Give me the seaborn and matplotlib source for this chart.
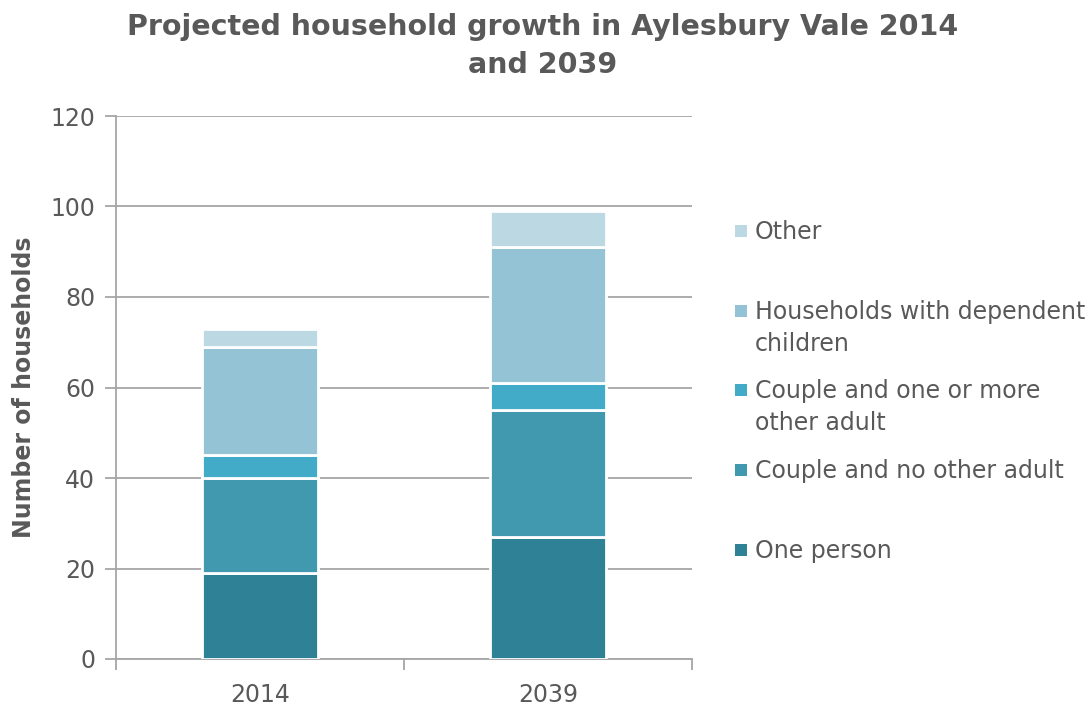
import matplotlib
matplotlib.use("Agg")
import matplotlib.pyplot as plt
import matplotlib.patches as mpatches
import seaborn as sns
import pandas as pd
import numpy as np

years = ["2014", "2039"]
categories = [
    "One person",
    "Couple and no other adult",
    "Couple and one or more other adult",
    "Households with dependent children",
    "Other",
]
one_person = [19, 27]
couple_no_other = [21, 28]
couple_other_adult = [5, 6]
dependent_children = [24, 30]
other = [4, 8]

series = [one_person, couple_no_other, couple_other_adult, dependent_children, other]
colors = ["#2F8195", "#4199AF", "#42ABC7", "#93C3D4", "#BCD8E3"]

legend_labels = {
    "Other": "Other",
    "Households with dependent children": "Households with dependent\nchildren",
    "Couple and one or more other adult": "Couple and one or more\nother adult",
    "Couple and no other adult": "Couple and no other adult",
    "One person": "One person",
}

text_color = "#595959"
grid_color = "#A6A6A6"

sns.set_theme(style="white")
plt.rcParams["font.family"] = ["DejaVu Sans"]

fig = plt.figure(figsize=(10.86, 7.05), dpi=100)
ax = fig.add_axes([116 / 1086, 1 - 659 / 705, (692 - 116) / 1086, (659 - 116) / 705])

bottom = np.zeros(len(years))
for name, vals, col in zip(categories, series, colors):
    df = pd.DataFrame({"year": years, "value": vals})
    sns.barplot(data=df, x="year", y="value", bottom=bottom, color=col,
                width=0.4, edgecolor="white", linewidth=2, saturation=1,
                ax=ax, zorder=3)
    bottom = bottom + np.array(vals)

ax.set_ylim(0, 120)
ax.set_xlim(-0.5, 1.5)
ax.set_yticks(range(0, 121, 20))
ax.yaxis.grid(True, color=grid_color, linewidth=1.3, zorder=0)
ax.set_axisbelow(True)
for s in ["top", "right"]:
    ax.spines[s].set_visible(False)
ax.spines["left"].set_color(grid_color)
ax.spines["bottom"].set_color(grid_color)
ax.spines["left"].set_linewidth(1.3)
ax.spines["bottom"].set_linewidth(1.3)

ax.tick_params(axis="y", which="major", length=8, width=1.3, color=grid_color,
               labelsize=17, labelcolor=text_color, pad=7, left=True, direction="out")
ax.tick_params(axis="x", which="major", length=0, labelsize=17,
               labelcolor=text_color, pad=17)
ax.set_xticks([0, 1])
ax.set_xticklabels(years)
ax.set_xticks([-0.5, 0.5, 1.5], minor=True)
ax.tick_params(axis="x", which="minor", length=8, width=1.3, color=grid_color,
               bottom=True, direction="out")

ax.set_xlabel("")
ax.set_ylabel("Number of households", fontsize=17, fontweight="bold",
              color=text_color, labelpad=10)

fig.text(0.5, 1 - 27 / 705, "Projected household growth in Aylesbury Vale 2014",
         ha="center", va="center", fontsize=20.5, fontweight="bold", color=text_color)
fig.text(0.5, 1 - 65 / 705, "and 2039",
         ha="center", va="center", fontsize=20.5, fontweight="bold", color=text_color)

# Legend drawn as marker squares with text, top entry first
legend_rows = [
    ("Other", 231),
    ("Households with dependent children", 311),
    ("Couple and one or more other adult", 390),
    ("Couple and no other adult", 470),
    ("One person", 550),
]
col_of = dict(zip(categories, colors))
sq = 12
for name, y in legend_rows:
    fig.patches.append(mpatches.Rectangle(
        (735 / 1086, 1 - (y + sq / 2) / 705), sq / 1086, sq / 705,
        transform=fig.transFigure, facecolor=col_of[name], edgecolor="none"))
    fig.text(755 / 1086, 1 - (y - 11) / 705, legend_labels[name],
             ha="left", va="top", fontsize=17, color=text_color, linespacing=1.42)

fig.savefig("out.png", dpi=100)
